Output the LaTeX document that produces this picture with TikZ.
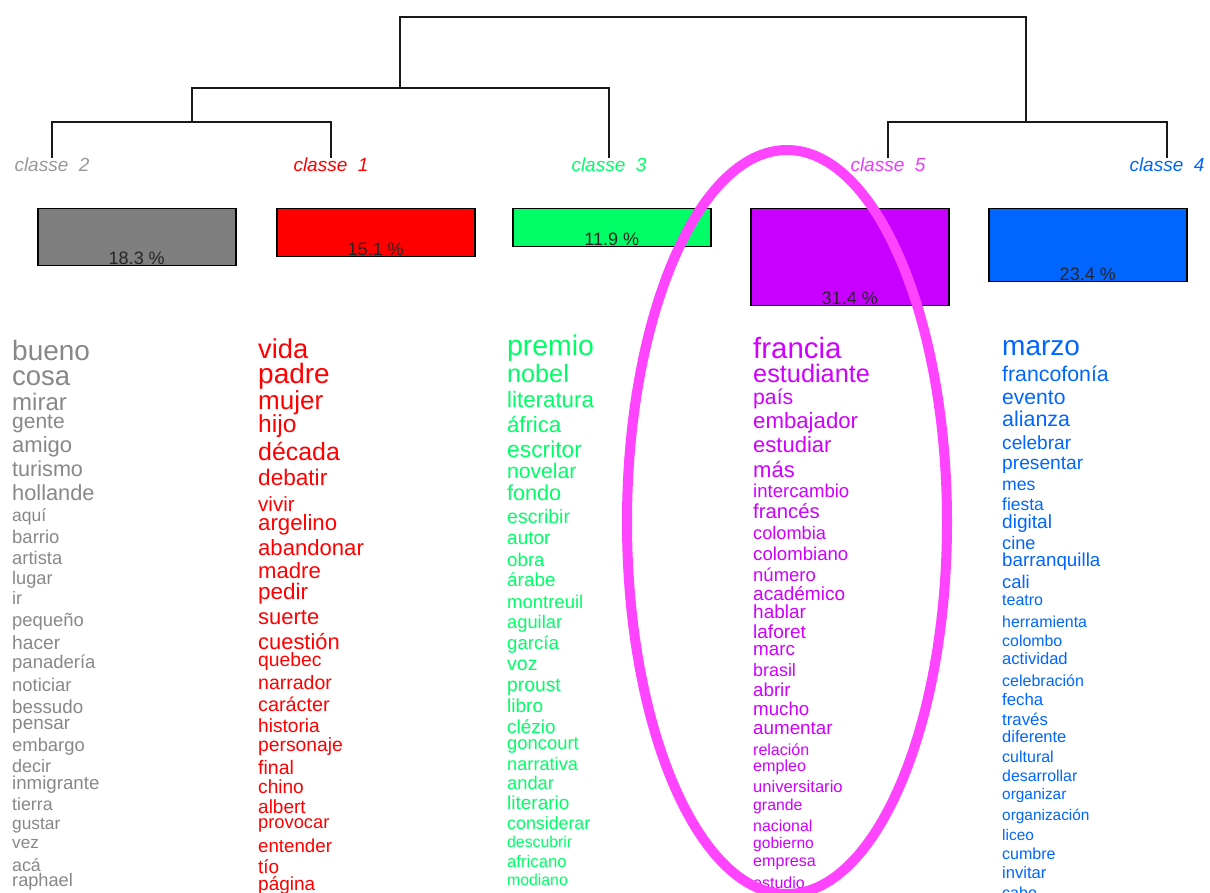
\documentclass[tikz,border=0pt]{standalone}
\usepackage{fontspec}
\usetikzlibrary{shapes.geometric}
\setmainfont{Liberation Sans}
\newcommand\fsz[1]{\fontsize{#1pt}{#1pt}\selectfont}
\definecolor{cgray}{HTML}{7F7F7F}
\definecolor{wgray}{HTML}{888888}
\definecolor{lgray}{HTML}{999999}
\definecolor{cred}{HTML}{FF0000}
\definecolor{cgreen}{HTML}{00FF66}
\definecolor{cpurple}{HTML}{C800FF}
\definecolor{wpurple}{HTML}{D000FF}
\definecolor{lpurple}{HTML}{E83CFF}
\definecolor{cblue}{HTML}{0066FF}
\definecolor{ring}{HTML}{FF44FF}
\tikzset{
  dend/.style={line width=1.5pt, draw=black!90},
  clabel/.style={inner sep=0pt, font=\fsz{19}\itshape},
  classbox/.style={draw=black, line width=1.5pt, anchor=north west, minimum width=198pt, inner sep=0pt},
  pct/.style={inner sep=0pt, font=\fsz{18}, text=black!85},
  word/.style={inner sep=0pt, anchor=mid west},
}
\begin{document}
\begin{tikzpicture}[x=1pt,y=-1pt]
\useasboundingbox (0,0) rectangle (1210,893);
\fill[white] (0,0) rectangle (1210,893);
\clip (0,0) rectangle (1210,893);
% class labels
\node[clabel, text=lgray] (c2) at (52,165) {classe\ \ 2};
\node[clabel, text=cred] (c1) at (331,165) {classe\ \ 1};
\node[clabel, text=cgreen] (c3) at (609,165) {classe\ \ 3};
\node[clabel, text=lpurple] (c5) at (888,165) {classe\ \ 5};
\node[clabel, text=cblue] (c4) at (1167,165) {classe\ \ 4};
% dendrogram
\coordinate (m21) at (192,122);
\coordinate (m213) at (400,88);
\coordinate (m54) at (1026,122);
\coordinate (root) at (713,17);
\draw[dend] (c2.north) |- (m21) -| (c1.north);
\draw[dend] (m21) |- (m213) -| (c3.north);
\draw[dend] (m213) |- (root) -| (m54);
\draw[dend] (c5.north) |- (m54) -| (c4.north);
% boxes
\node[classbox, fill=cgray, minimum height=57pt] (b2) at (37,208) {};
\node[classbox, fill=cred, minimum height=48pt] (b1) at (276,208) {};
\node[classbox, fill=cgreen, minimum height=38pt] (b3) at (512,208) {};
\node[classbox, fill=cpurple, minimum height=97pt] (b5) at (750,208) {};
\node[classbox, fill=cblue, minimum height=73pt] (b4) at (988,208) {};
\node[pct] (p2) at ([yshift=8pt]b2.south) {18.3 \%};
\node[pct] (p1) at ([yshift=8pt]b1.south) {15.1 \%};
\node[pct] (p3) at ([yshift=8pt]b3.south) {11.9 \%};
\node[pct] (p5) at ([yshift=8pt]b5.south) {31.4 \%};
\node[pct] (p4) at ([yshift=8pt]b4.south) {23.4 \%};
% words
\foreach \t/\y/\s [count=\i] in {bueno/352/28, cosa/377/27.5, mirar/403/24, gente/422/21, amigo/445/22, turismo/470/21.6, hollande/493/21.8, aquí/515/17.5, barrio/537/18.5, artista/558/18.4, lugar/578/18.2, ir/598/18, pequeño/620/18.4, hacer/643/19.2, panadería/662/18.5, noticiar/685/18.4, bessudo/707/18.8, pensar/723/19, embargo/745/18.4, decir/766/18, inmigrante/783/18.7, tierra/804/17.8, gustar/823/17.3, vez/842/17.1, acá/865/17.8, raphael/880/18.2}
  \node[word, text=wgray, font=\fsz{\s}] (ga\i) at (12,\y+0.2*\s) {\t};
\foreach \t/\y/\s [count=\i] in {vida/350/27.3, padre/375/28, mujer/402/26, hijo/425/24.6, década/453/24.9, debatir/478/22.6, vivir/505/20.5, argelino/523/22.2, abandonar/548/22.1, madre/571/22.1, pedir/592/22.5, suerte/617/22, cuestión/642/21.9, quebec/660/19.3, narrador/683/19.5, carácter/705/19.8, historia/726/19.1, personaje/745/19.3, final/768/19.5, chino/787/19.1, albert/807/19, provocar/822/18.3, entender/846/18.7, tío/867/18.9, página/884/19}
  \node[word, text=cred, font=\fsz{\s}] (rb\i) at (258,\y+0.2*\s) {\t};
\foreach \t/\y/\s [count=\i] in {premio/347/28.4, nobel/375/25.2, literatura/400/22.3, áfrica/425/22.1, escritor/450/22.8, novelar/472/21.1, fondo/494/21.6, escribir/517/19.5, autor/538/19, obra/560/18.7, árabe/580/18.9, montreuil/602/18.5, aguilar/622/18.3, garcía/643/18.6, voz/664/19.5, proust/685/19.3, libro/706/19, clézio/727/18.9, goncourt/743/18.4, narrativa/764/18.2, andar/783/18.3, literario/803/19, considerar/823/17.8, descubrir/842/15.8, africano/862/16.7, modiano/880/15.8}
  \node[word, text=cgreen, font=\fsz{\s}] (gc\i) at (507,\y+0.2*\s) {\t};
\foreach \t/\y/\s [count=\i] in {francia/350/29.4, estudiante/375/25.3, país/398/21.2, embajador/421/22.2, estudiar/445/22, más/470/22, intercambio/491/18.6, francés/512/20.3, colombia/533/18.2, colombiano/554/18.6, número/575/18.5, académico/594/19, hablar/612/19, laforet/632/19, marc/649/18.8, brasil/670/17.9, abrir/690/18.7, mucho/709/18.7, aumentar/728/18.8, relación/750/16, empleo/766/16.1, universitario/787/16.6, grande/805/15.8, nacional/826/15.9, gobierno/843/15.6, empresa/861/16.1, estudio/883/16}
  \node[word, text=wpurple, font=\fsz{\s}] (pd\i) at (753,\y+0.2*\s) {\t};
\foreach \t/\y/\s [count=\i] in {marzo/347/28, francofonía/375/21.3, evento/398/21.1, alianza/420/21.4, celebrar/443/19.1, presentar/463/19.2, mes/484/17.6, fiesta/504/17.4, digital/522/19.1, cine/543/18.2, barranquilla/560/18.8, cali/582/18.4, teatro/600/16, herramienta/622/15.9, colombo/641/15.9, actividad/659/16.6, celebración/681/16, fecha/699/16.8, través/719/16.8, diferente/737/16.5, cultural/757/16, desarrollar/776/15.9, organizar/794/15.4, organización/815/15.4, liceo/835/15.4, cumbre/854/16, invitar/873/16.6, cabo/893/16}
  \node[word, text=cblue, font=\fsz{\s}] (be\i) at (1002,\y+0.2*\s) {\t};
% highlight ring
\node[draw=ring, line width=10pt, ellipse, inner sep=0pt, minimum width=320pt, minimum height=744pt] (ringnode) at (787,522) {};
\end{tikzpicture}
\end{document}
